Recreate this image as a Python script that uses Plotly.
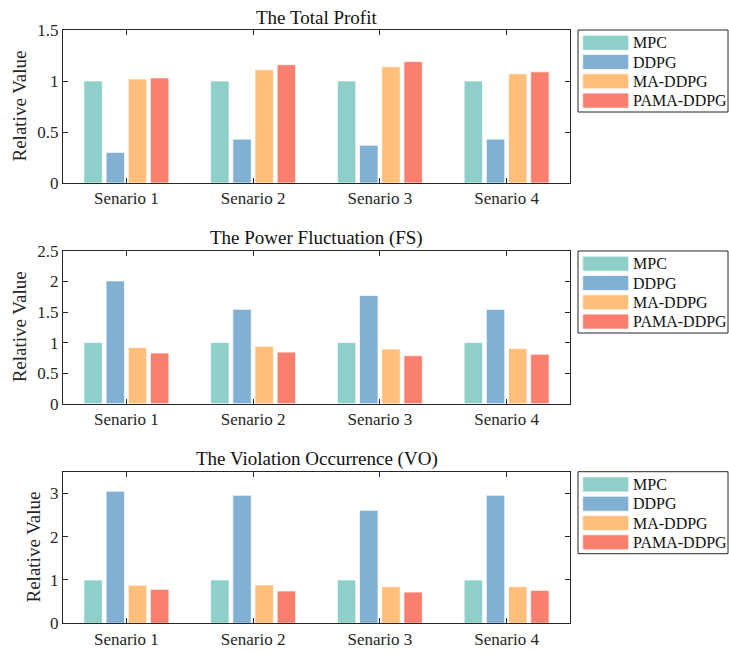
import plotly.graph_objects as go

W, H = 729, 653

scenarios = ["Senario 1", "Senario 2", "Senario 3", "Senario 4"]
x_pos = [1, 2, 3, 4]
methods = ["MPC", "DDPG", "MA-DDPG", "PAMA-DDPG"]
colors = ["#8ECFC9", "#82B0D2", "#FFBE7A", "#FA7F6F"]

titles = ["The Total Profit", "The Power Fluctuation (FS)", "The Violation Occurrence (VO)"]

profit_mpc = [1.0, 1.0, 1.0, 1.0]
profit_ddpg = [0.30, 0.43, 0.37, 0.43]
profit_ma = [1.02, 1.11, 1.14, 1.07]
profit_pama = [1.03, 1.16, 1.19, 1.09]

fs_mpc = [1.0, 1.0, 1.0, 1.0]
fs_ddpg = [2.01, 1.545, 1.77, 1.545]
fs_ma = [0.92, 0.94, 0.895, 0.905]
fs_pama = [0.83, 0.845, 0.785, 0.81]

vo_mpc = [1.0, 1.0, 1.0, 1.0]
vo_ddpg = [3.05, 2.955, 2.61, 2.955]
vo_ma = [0.88, 0.885, 0.845, 0.845]
vo_pama = [0.785, 0.745, 0.72, 0.76]

y_ranges = [[0, 1.5], [0, 2.5], [0, 3.5]]
y_ticks = [[0, 0.5, 1, 1.5], [0, 0.5, 1, 1.5, 2, 2.5], [0, 1, 2, 3]]

panels = [
    [profit_mpc, profit_ddpg, profit_ma, profit_pama],
    [fs_mpc, fs_ddpg, fs_ma, fs_pama],
    [vo_mpc, vo_ddpg, vo_ma, vo_pama],
]

FONT = "Liberation Serif, Times New Roman, serif"
AX = "#262626"

plot_left, plot_right = 63, 570
plot_tb = [(30, 183), (251, 403.7), (471.7, 623.3)]
ytitle_x = [19, 19, 33]


def px(x):
    return x / W


def py(y):
    return 1 - y / H


fig = go.Figure()
for p, series in enumerate(panels):
    suffix = "" if p == 0 else str(p + 1)
    for name, vals, col in zip(methods, series, colors):
        fig.add_trace(go.Bar(
            x=x_pos, y=vals, name=name, showlegend=False,
            marker=dict(color=col, line=dict(color="rgba(255,255,255,0.7)", width=1)),
            xaxis="x" + suffix, yaxis="y" + suffix,
        ))

layout = dict(
    width=W, height=H,
    margin=dict(l=0, r=0, t=0, b=0, pad=0, autoexpand=False),
    paper_bgcolor="white", plot_bgcolor="white",
    barmode="group", bargap=0.3, bargroupgap=0.17,
    font=dict(family=FONT, size=17, color="#262626"),
    showlegend=False,
)

shapes = []
annotations = []
for p in range(3):
    suffix = "" if p == 0 else str(p + 1)
    top, bot = plot_tb[p]
    layout["xaxis" + suffix] = dict(
        domain=[px(plot_left), px(plot_right)],
        anchor="y" + suffix,
        range=[0.5, 4.5],
        tickvals=x_pos, ticktext=scenarios,
        ticks="inside", ticklen=5, tickcolor=AX, tickwidth=1,
        showline=True, linecolor=AX, linewidth=1, mirror="allticks",
        showgrid=False, zeroline=False, automargin=False,
        tickfont=dict(family=FONT, size=17, color="#262626"),
    )
    layout["yaxis" + suffix] = dict(
        domain=[py(bot), py(top)],
        anchor="x" + suffix,
        range=y_ranges[p], tickvals=y_ticks[p],
        ticks="inside", ticklen=5, tickcolor=AX, tickwidth=1,
        showline=True, linecolor=AX, linewidth=1, mirror="allticks",
        showgrid=False, zeroline=False, automargin=False,
        tickfont=dict(family=FONT, size=17, color="#262626"),
    )
    annotations.append(dict(
        text=titles[p], x=px((plot_left + plot_right) / 2), y=py(top - 13),
        xref="paper", yref="paper", xanchor="center", yanchor="middle",
        showarrow=False, font=dict(family=FONT, size=19, color="#111111"),
    ))
    annotations.append(dict(
        text="Relative Value", x=px(ytitle_x[p]), y=py((top + bot) / 2),
        xref="paper", yref="paper", xanchor="center", yanchor="middle",
        textangle=-90, showarrow=False,
        font=dict(family=FONT, size=19, color="#262626"),
    ))
    lx0, lx1 = 578, 728
    ly0, ly1 = top, top + 82
    shapes.append(dict(type="rect", xref="paper", yref="paper",
                       x0=px(lx0), x1=px(lx1), y0=py(ly1), y1=py(ly0),
                       line=dict(color=AX, width=1), fillcolor="white"))
    for i, (name, col) in enumerate(zip(methods, colors)):
        cy = top + 12.7 + i * 19.3
        shapes.append(dict(type="rect", xref="paper", yref="paper",
                           x0=px(582.7), x1=px(628.7), y0=py(cy + 7.5), y1=py(cy - 7.5),
                           line=dict(color="rgba(255,255,255,0.7)", width=1), fillcolor=col))
        annotations.append(dict(
            text=name, x=px(631), y=py(cy), xref="paper", yref="paper",
            xanchor="left", yanchor="middle", showarrow=False,
            font=dict(family=FONT, size=16, color="#111111"),
        ))

layout["shapes"] = shapes
layout["annotations"] = annotations
fig.update_layout(**layout)
fig.write_html("out.html",
               config={"displayModeBar": False},
               post_script="document.body.style.margin='0';document.body.style.padding='0';")
